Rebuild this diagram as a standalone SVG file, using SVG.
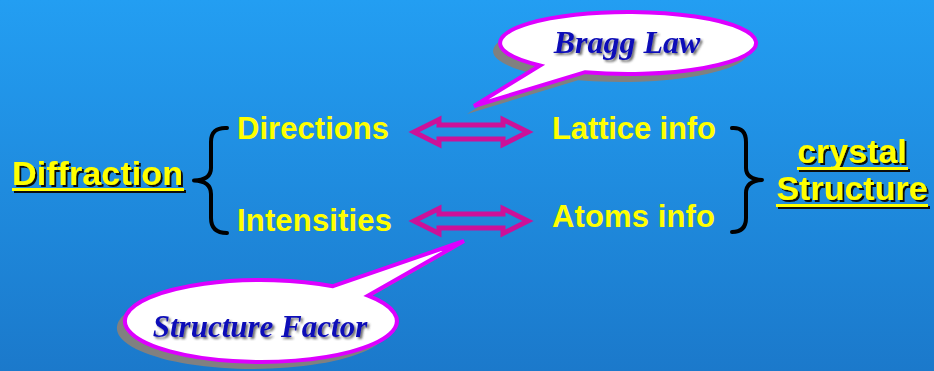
<svg xmlns="http://www.w3.org/2000/svg" width="934" height="371" viewBox="0 0 934 371">
<defs>
<linearGradient id="bg" x1="0" y1="0" x2="0" y2="1">
<stop offset="0" stop-color="#239ef2"/>
<stop offset="1" stop-color="#1b79cb"/>
</linearGradient>
<filter id="dsh" x="-10%" y="-30%" width="130%" height="170%"><feDropShadow dx="2" dy="2" stdDeviation="0.4" flood-color="#111111" flood-opacity="1"/></filter>
<filter id="csh" x="-10%" y="-30%" width="130%" height="170%"><feDropShadow dx="2" dy="2" stdDeviation="1" flood-color="#333333" flood-opacity="0.7"/></filter>
</defs>
<style>
.main{font-family:"Liberation Sans",Arial,sans-serif;font-weight:bold;font-size:31px;fill:#ffff00}
.big{font-family:"Liberation Sans",Arial,sans-serif;font-weight:bold;font-size:34px;fill:#ffff00}
.ul{fill:#ffff00}
.call{font-family:"Liberation Serif","Times New Roman",serif;font-weight:bold;font-style:italic;fill:#1010b8}
.bubble{fill:#ffffff;stroke:#dd00ff;stroke-width:4;stroke-linejoin:miter}
.shadow{fill:#808080}
.arrow{fill:none;stroke:#cc1199;stroke-width:5;stroke-linejoin:miter}
.brace{fill:none;stroke:#000;stroke-width:4;stroke-linecap:round;stroke-linejoin:round}
</style>
<rect x="0" y="0" width="934" height="371" fill="url(#bg)"/>

<g id="diffraction" filter="url(#dsh)">
<text class="big" x="12" y="185" textLength="171">Diffraction</text>
<rect class="ul" x="12" y="188" width="172" height="3"/>
</g>

<g id="brace-left">
<path class="brace" d="M227,128 Q211,127 211,142 L211,168 Q211,180 194,180.5 Q211,181 211,194 L211,218 Q211,233 227,233"/>
</g>

<g id="directions"><text class="main" x="237" y="139" textLength="152">Directions</text></g>
<g id="intensities"><text class="main" x="237" y="231" textLength="155">Intensities</text></g>
<g id="lattice"><text class="main" x="552" y="139" textLength="164">Lattice info</text></g>
<g id="atoms"><text class="main" x="552" y="227" textLength="163">Atoms info</text></g>

<g id="brace-right">
<path class="brace" d="M732,128 Q746,127 746,142 L746,168 Q746,179 762,180 Q746,181 746,193 L746,218 Q746,232 732,232"/>
</g>

<g id="crystal-structure" filter="url(#dsh)">
<text class="big" x="852" y="163" text-anchor="middle">crystal</text>
<rect class="ul" x="797" y="167" width="111" height="3"/>
<text class="big" x="852" y="200" text-anchor="middle">Structure</text>
<rect class="ul" x="776" y="204" width="152" height="3"/>
</g>

<g id="connectors">
<path class="arrow" d="M414,132 L439,119.5 L439,125 L503,125 L503,119.5 L528,132 L503,144.5 L503,139 L439,139 L439,144.5 Z"/>
<path class="arrow" d="M414,221 L439,208.5 L439,214 L503,214 L503,208.5 L528,221 L503,233.5 L503,228 L439,228 L439,233.5 Z"/>
</g>

<g id="bragg-law">
<path class="shadow" transform="translate(-7,8)" d="M540,65.5 L474,106 L585,72.2 A128 31 0 1 0 540,65.5 Z"/>
<path class="bubble" d="M540,65.5 L474,106 L585,72.2 A128 31 0 1 0 540,65.5 Z"/>
<text class="call" x="627" y="53" font-size="32" text-anchor="middle" filter="url(#csh)">Bragg Law</text>
</g>

<g id="structure-factor">
<path class="shadow" transform="translate(-8,7)" d="M333,286.2 L464,241 L368,295.7 A136 41 0 1 1 333,286.2 Z"/>
<path class="bubble" d="M333,286.2 L464,241 L368,295.7 A136 41 0 1 1 333,286.2 Z"/>
<text class="call" x="260" y="337" font-size="31" text-anchor="middle" filter="url(#csh)">Structure Factor</text>
</g>
</svg>
